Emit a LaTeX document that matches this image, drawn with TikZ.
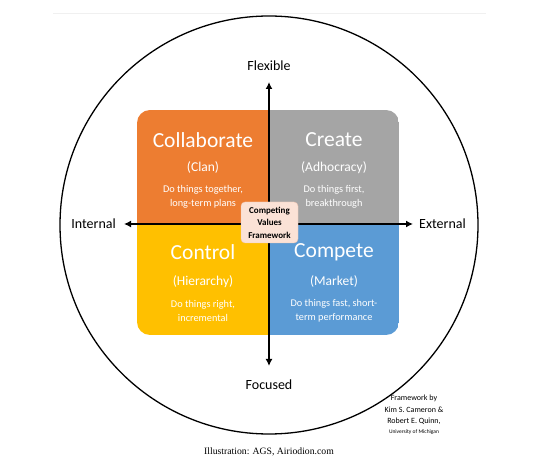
\documentclass[tikz,border=0pt]{standalone}
\usepackage{fontspec}
\setmainfont{Carlito}
\newfontfamily\creditfont{Liberation Serif}
\usetikzlibrary{positioning, arrows.meta}

\definecolor{clanorange}{HTML}{ED7D31}
\definecolor{adhocgray}{HTML}{A5A5A5}
\definecolor{hieryellow}{HTML}{FFC000}
\definecolor{marketblue}{HTML}{5B9BD5}
\definecolor{cvfpink}{HTML}{FBE2D6}
\definecolor{cvfedge}{HTML}{F2C4B0}

\begin{document}
\begin{tikzpicture}[
    x=1pt, y=1pt,
    axis/.style={line width=2pt, {Latex[length=7pt, width=7pt]}-{Latex[length=7pt, width=7pt]}},
    dimlabel/.style={font=\fontsize{14}{16}\selectfont, inner sep=1pt},
    quadtitle/.style={text=white, font=\fontsize{21.5}{24}\selectfont},
    quadsub/.style={text=white, font=\fontsize{13.5}{16}\selectfont},
    quaddesc/.style={text=white, align=center, font=\fontsize{10.3}{14}\selectfont},
    cvf/.style={draw=cvfedge, fill=cvfpink, rounded corners=4pt, align=center, minimum width=57pt, minimum height=41pt, inner sep=1pt, font=\bfseries\fontsize{9}{12.5}\selectfont},
    credit/.style={align=center, font=\fontsize{8}{11.5}\selectfont}
]
    \useasboundingbox (0,0) rectangle (550,464);

    % faint rule and outer circle
    \draw[gray!12, line width=0.8pt] (53,451) -- (486,451);
    \draw[line width=1.3pt] (269,239) circle (209);

    % Quadrants
    \begin{scope}
        \clip[rounded corners=13pt] (137,129) rectangle (399,354);
        \fill[clanorange] (137,240) rectangle (269,354);
        \fill[adhocgray] (269,240) rectangle (399,354);
        \fill[hieryellow] (137,129) rectangle (269,240);
        \fill[marketblue] (269,129) rectangle (399,240);
    \end{scope}

    % Collaborate (Clan)
    \node[quadtitle] (clan) at (203,324) {Collaborate};
    \node[quadsub] (clansub) at (203,296) {(Clan)};
    \node[quaddesc] (clandesc) at (203,267) {Do things together,\\long-term plans};

    % Create (Adhocracy)
    \node[quadtitle] (adhoc) at (334,324) {Create};
    \node[quadsub] (adhocsub) at (334,296) {(Adhocracy)};
    \node[quaddesc] (adhocdesc) at (334,267) {Do things first,\\breakthrough};

    % Control (Hierarchy)
    \node[quadtitle] (hier) at (203,212) {Control};
    \node[quadsub] (hiersub) at (203,182) {(Hierarchy)};
    \node[quaddesc] (hierdesc) at (203,153) {Do things right,\\incremental};

    % Compete (Market)
    \node[quadtitle] (market) at (334,212) {Compete};
    \node[quadsub] (marketsub) at (334,182) {(Market)};
    \node[quaddesc] (marketdesc) at (334,153) {Do things fast, short-\\term performance};

    % Axes
    \coordinate (top) at (269,382);
    \coordinate (bottom) at (269,98);
    \coordinate (west) at (124,240);
    \coordinate (east) at (413,240);
    \draw[axis] (bottom) -- (top);
    \draw[axis] (west) -- (east);

    \node[dimlabel, above=10pt of top] (flex) {Flexible};
    \node[dimlabel, below=13pt of bottom] (focus) {Focused};
    \node[dimlabel, left=7pt of west] (internal) {Internal};
    \node[dimlabel, right=5pt of east] (external) {External};

    % Centre box
    \node[cvf] (cvf) at (269.5,241.5) {Competing\\Values\\Framework};

    % Credits
    \node[credit] (authors) at (414,49) {Framework by\\Kim S. Cameron \&\\Robert E. Quinn,\\[-1.5pt]{\fontsize{5.5}{7}\selectfont University of Michigan}};
    \node[font=\creditfont\fontsize{9.7}{11}\selectfont] (illus) at (269,12) {Illustration: AGS, Airiodion.com};

\end{tikzpicture}
\end{document}
